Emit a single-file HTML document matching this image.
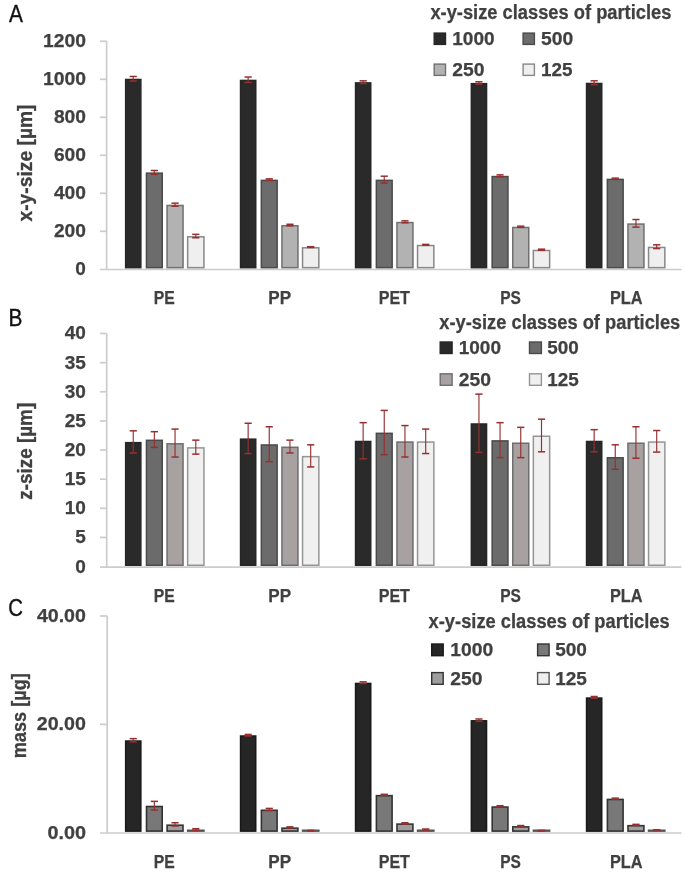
<!DOCTYPE html>
<html><head><meta charset="utf-8"><style>
html,body{margin:0;padding:0;background:#fff;}
body{width:685px;height:873px;overflow:hidden;}
svg{display:block;font-family:"Liberation Sans", sans-serif;filter:blur(0.7px);}
</style></head><body>
<svg width="685" height="873" viewBox="0 0 685 873">
<rect width="685" height="873" fill="#fff"/>
<line x1="106.60" y1="41.30" x2="106.60" y2="269.50" stroke="#cccccc" stroke-width="1.7"/>
<line x1="100.00" y1="269.50" x2="681.50" y2="269.50" stroke="#cccccc" stroke-width="1.7"/>
<text x="85.90" y="275.20" font-size="19" font-weight="bold" text-anchor="end" fill="#404040" stroke="#404040" stroke-width="0.25" >0</text>
<line x1="100.00" y1="231.30" x2="106.60" y2="231.30" stroke="#cccccc" stroke-width="1.7"/>
<text x="85.90" y="237.20" font-size="19" font-weight="bold" text-anchor="end" fill="#404040" stroke="#404040" stroke-width="0.25" textLength="32.0" lengthAdjust="spacingAndGlyphs" >200</text>
<line x1="100.00" y1="193.30" x2="106.60" y2="193.30" stroke="#cccccc" stroke-width="1.7"/>
<text x="85.90" y="199.20" font-size="19" font-weight="bold" text-anchor="end" fill="#404040" stroke="#404040" stroke-width="0.25" textLength="32.0" lengthAdjust="spacingAndGlyphs" >400</text>
<line x1="100.00" y1="155.30" x2="106.60" y2="155.30" stroke="#cccccc" stroke-width="1.7"/>
<text x="85.90" y="161.20" font-size="19" font-weight="bold" text-anchor="end" fill="#404040" stroke="#404040" stroke-width="0.25" textLength="32.0" lengthAdjust="spacingAndGlyphs" >600</text>
<line x1="100.00" y1="117.30" x2="106.60" y2="117.30" stroke="#cccccc" stroke-width="1.7"/>
<text x="85.90" y="123.20" font-size="19" font-weight="bold" text-anchor="end" fill="#404040" stroke="#404040" stroke-width="0.25" textLength="32.0" lengthAdjust="spacingAndGlyphs" >800</text>
<line x1="100.00" y1="79.30" x2="106.60" y2="79.30" stroke="#cccccc" stroke-width="1.7"/>
<text x="85.90" y="85.20" font-size="19" font-weight="bold" text-anchor="end" fill="#404040" stroke="#404040" stroke-width="0.25" textLength="43.0" lengthAdjust="spacingAndGlyphs" >1000</text>
<line x1="100.00" y1="41.30" x2="106.60" y2="41.30" stroke="#cccccc" stroke-width="1.7"/>
<text x="85.90" y="47.20" font-size="19" font-weight="bold" text-anchor="end" fill="#404040" stroke="#404040" stroke-width="0.25" textLength="43.0" lengthAdjust="spacingAndGlyphs" >1200</text>
<rect x="125.65" y="79.48" width="15.20" height="188.17" fill="#2a2a2a" stroke="#262626" stroke-width="1.5"/>
<rect x="146.45" y="173.15" width="15.80" height="94.50" fill="#6c6c6c" stroke="#4a4a4a" stroke-width="1.5"/>
<rect x="167.05" y="205.45" width="16.00" height="62.20" fill="#b2b2b2" stroke="#707070" stroke-width="1.5"/>
<rect x="187.65" y="236.80" width="16.30" height="30.85" fill="#efefef" stroke="#888888" stroke-width="1.5"/>
<line x1="133.25" y1="76.45" x2="133.25" y2="81.01" stroke="#963030" stroke-width="1.15"/>
<line x1="129.65" y1="76.45" x2="136.85" y2="76.45" stroke="#963030" stroke-width="1.5"/>
<line x1="129.65" y1="81.01" x2="136.85" y2="81.01" stroke="#963030" stroke-width="1.5"/>
<line x1="154.35" y1="170.50" x2="154.35" y2="174.30" stroke="#963030" stroke-width="1.15"/>
<line x1="150.75" y1="170.50" x2="157.95" y2="170.50" stroke="#963030" stroke-width="1.5"/>
<line x1="150.75" y1="174.30" x2="157.95" y2="174.30" stroke="#963030" stroke-width="1.5"/>
<line x1="175.05" y1="203.18" x2="175.05" y2="206.22" stroke="#963030" stroke-width="1.15"/>
<line x1="171.45" y1="203.18" x2="178.65" y2="203.18" stroke="#963030" stroke-width="1.5"/>
<line x1="171.45" y1="206.22" x2="178.65" y2="206.22" stroke="#963030" stroke-width="1.5"/>
<line x1="195.80" y1="234.34" x2="195.80" y2="237.76" stroke="#963030" stroke-width="1.15"/>
<line x1="192.20" y1="234.34" x2="199.40" y2="234.34" stroke="#963030" stroke-width="1.5"/>
<line x1="192.20" y1="237.76" x2="199.40" y2="237.76" stroke="#963030" stroke-width="1.5"/>
<rect x="240.55" y="80.43" width="15.20" height="187.22" fill="#2a2a2a" stroke="#262626" stroke-width="1.5"/>
<rect x="261.35" y="180.37" width="15.80" height="87.28" fill="#6c6c6c" stroke="#4a4a4a" stroke-width="1.5"/>
<rect x="281.95" y="225.78" width="16.00" height="41.87" fill="#b2b2b2" stroke="#707070" stroke-width="1.5"/>
<rect x="302.55" y="247.82" width="16.30" height="19.83" fill="#efefef" stroke="#888888" stroke-width="1.5"/>
<line x1="248.15" y1="77.02" x2="248.15" y2="82.34" stroke="#963030" stroke-width="1.15"/>
<line x1="244.55" y1="77.02" x2="251.75" y2="77.02" stroke="#963030" stroke-width="1.5"/>
<line x1="244.55" y1="82.34" x2="251.75" y2="82.34" stroke="#963030" stroke-width="1.5"/>
<line x1="269.25" y1="178.86" x2="269.25" y2="180.38" stroke="#963030" stroke-width="1.15"/>
<line x1="265.65" y1="178.86" x2="272.85" y2="178.86" stroke="#963030" stroke-width="1.5"/>
<line x1="265.65" y1="180.38" x2="272.85" y2="180.38" stroke="#963030" stroke-width="1.5"/>
<line x1="289.95" y1="224.27" x2="289.95" y2="225.79" stroke="#963030" stroke-width="1.15"/>
<line x1="286.35" y1="224.27" x2="293.55" y2="224.27" stroke="#963030" stroke-width="1.5"/>
<line x1="286.35" y1="225.79" x2="293.55" y2="225.79" stroke="#963030" stroke-width="1.5"/>
<line x1="310.70" y1="246.69" x2="310.70" y2="247.45" stroke="#963030" stroke-width="1.15"/>
<line x1="307.10" y1="246.69" x2="314.30" y2="246.69" stroke="#963030" stroke-width="1.5"/>
<line x1="307.10" y1="247.45" x2="314.30" y2="247.45" stroke="#963030" stroke-width="1.5"/>
<rect x="355.55" y="82.90" width="15.20" height="184.75" fill="#2a2a2a" stroke="#262626" stroke-width="1.5"/>
<rect x="376.35" y="180.37" width="15.80" height="87.28" fill="#6c6c6c" stroke="#4a4a4a" stroke-width="1.5"/>
<rect x="396.95" y="222.55" width="16.00" height="45.10" fill="#b2b2b2" stroke="#707070" stroke-width="1.5"/>
<rect x="417.55" y="245.54" width="16.30" height="22.11" fill="#efefef" stroke="#888888" stroke-width="1.5"/>
<line x1="363.15" y1="80.82" x2="363.15" y2="83.48" stroke="#963030" stroke-width="1.15"/>
<line x1="359.55" y1="80.82" x2="366.75" y2="80.82" stroke="#963030" stroke-width="1.5"/>
<line x1="359.55" y1="83.48" x2="366.75" y2="83.48" stroke="#963030" stroke-width="1.5"/>
<line x1="384.25" y1="176.20" x2="384.25" y2="183.04" stroke="#963030" stroke-width="1.15"/>
<line x1="380.65" y1="176.20" x2="387.85" y2="176.20" stroke="#963030" stroke-width="1.5"/>
<line x1="380.65" y1="183.04" x2="387.85" y2="183.04" stroke="#963030" stroke-width="1.5"/>
<line x1="404.95" y1="220.85" x2="404.95" y2="222.75" stroke="#963030" stroke-width="1.15"/>
<line x1="401.35" y1="220.85" x2="408.55" y2="220.85" stroke="#963030" stroke-width="1.5"/>
<line x1="401.35" y1="222.75" x2="408.55" y2="222.75" stroke="#963030" stroke-width="1.5"/>
<line x1="425.70" y1="244.41" x2="425.70" y2="245.17" stroke="#963030" stroke-width="1.15"/>
<line x1="422.10" y1="244.41" x2="429.30" y2="244.41" stroke="#963030" stroke-width="1.5"/>
<line x1="422.10" y1="245.17" x2="429.30" y2="245.17" stroke="#963030" stroke-width="1.5"/>
<rect x="471.35" y="83.66" width="15.20" height="183.99" fill="#2a2a2a" stroke="#262626" stroke-width="1.5"/>
<rect x="492.15" y="176.57" width="15.80" height="91.08" fill="#6c6c6c" stroke="#4a4a4a" stroke-width="1.5"/>
<rect x="512.75" y="227.49" width="16.00" height="40.16" fill="#b2b2b2" stroke="#707070" stroke-width="1.5"/>
<rect x="533.35" y="250.48" width="16.30" height="17.17" fill="#efefef" stroke="#888888" stroke-width="1.5"/>
<line x1="478.95" y1="81.77" x2="478.95" y2="84.05" stroke="#963030" stroke-width="1.15"/>
<line x1="475.35" y1="81.77" x2="482.55" y2="81.77" stroke="#963030" stroke-width="1.5"/>
<line x1="475.35" y1="84.05" x2="482.55" y2="84.05" stroke="#963030" stroke-width="1.5"/>
<line x1="500.05" y1="174.87" x2="500.05" y2="176.77" stroke="#963030" stroke-width="1.15"/>
<line x1="496.45" y1="174.87" x2="503.65" y2="174.87" stroke="#963030" stroke-width="1.5"/>
<line x1="496.45" y1="176.77" x2="503.65" y2="176.77" stroke="#963030" stroke-width="1.5"/>
<line x1="520.75" y1="226.17" x2="520.75" y2="227.31" stroke="#963030" stroke-width="1.15"/>
<line x1="517.15" y1="226.17" x2="524.35" y2="226.17" stroke="#963030" stroke-width="1.5"/>
<line x1="517.15" y1="227.31" x2="524.35" y2="227.31" stroke="#963030" stroke-width="1.5"/>
<line x1="541.50" y1="249.16" x2="541.50" y2="250.30" stroke="#963030" stroke-width="1.15"/>
<line x1="537.90" y1="249.16" x2="545.10" y2="249.16" stroke="#963030" stroke-width="1.5"/>
<line x1="537.90" y1="250.30" x2="545.10" y2="250.30" stroke="#963030" stroke-width="1.5"/>
<rect x="586.55" y="83.47" width="15.20" height="184.18" fill="#2a2a2a" stroke="#262626" stroke-width="1.5"/>
<rect x="607.35" y="179.42" width="15.80" height="88.23" fill="#6c6c6c" stroke="#4a4a4a" stroke-width="1.5"/>
<rect x="627.95" y="224.07" width="16.00" height="43.58" fill="#b2b2b2" stroke="#707070" stroke-width="1.5"/>
<rect x="648.55" y="247.44" width="16.30" height="20.21" fill="#efefef" stroke="#888888" stroke-width="1.5"/>
<line x1="594.15" y1="80.82" x2="594.15" y2="84.62" stroke="#963030" stroke-width="1.15"/>
<line x1="590.55" y1="80.82" x2="597.75" y2="80.82" stroke="#963030" stroke-width="1.5"/>
<line x1="590.55" y1="84.62" x2="597.75" y2="84.62" stroke="#963030" stroke-width="1.5"/>
<line x1="615.25" y1="178.10" x2="615.25" y2="179.24" stroke="#963030" stroke-width="1.15"/>
<line x1="611.65" y1="178.10" x2="618.85" y2="178.10" stroke="#963030" stroke-width="1.5"/>
<line x1="611.65" y1="179.24" x2="618.85" y2="179.24" stroke="#963030" stroke-width="1.5"/>
<line x1="635.95" y1="219.52" x2="635.95" y2="227.12" stroke="#963030" stroke-width="1.15"/>
<line x1="632.35" y1="219.52" x2="639.55" y2="219.52" stroke="#963030" stroke-width="1.5"/>
<line x1="632.35" y1="227.12" x2="639.55" y2="227.12" stroke="#963030" stroke-width="1.5"/>
<line x1="656.70" y1="244.79" x2="656.70" y2="248.59" stroke="#963030" stroke-width="1.15"/>
<line x1="653.10" y1="244.79" x2="660.30" y2="244.79" stroke="#963030" stroke-width="1.5"/>
<line x1="653.10" y1="248.59" x2="660.30" y2="248.59" stroke="#963030" stroke-width="1.5"/>
<text x="164.30" y="304.00" font-size="19" font-weight="bold" text-anchor="middle" fill="#404040" stroke="#404040" stroke-width="0.25" textLength="21" lengthAdjust="spacingAndGlyphs" >PE</text>
<text x="279.70" y="304.00" font-size="19" font-weight="bold" text-anchor="middle" fill="#404040" stroke="#404040" stroke-width="0.25" textLength="22.8" lengthAdjust="spacingAndGlyphs" >PP</text>
<text x="394.30" y="304.00" font-size="19" font-weight="bold" text-anchor="middle" fill="#404040" stroke="#404040" stroke-width="0.25" textLength="31.2" lengthAdjust="spacingAndGlyphs" >PET</text>
<text x="510.50" y="304.00" font-size="19" font-weight="bold" text-anchor="middle" fill="#404040" stroke="#404040" stroke-width="0.25" textLength="20.7" lengthAdjust="spacingAndGlyphs" >PS</text>
<text x="626.30" y="304.00" font-size="19" font-weight="bold" text-anchor="middle" fill="#404040" stroke="#404040" stroke-width="0.25" textLength="32.7" lengthAdjust="spacingAndGlyphs" >PLA</text>
<text x="8.95" y="21.60" font-size="23.3" font-weight="normal" text-anchor="start" fill="#111" stroke="#111" stroke-width="0.35" textLength="13.9" lengthAdjust="spacingAndGlyphs" >A</text>
<text transform="translate(31.60,163.00) rotate(-90)" x="0" y="0" font-size="19.5" font-weight="bold" text-anchor="middle" fill="#404040" stroke="#404040" stroke-width="0.3" textLength="117.0" lengthAdjust="spacingAndGlyphs">x-y-size [µm]</text>
<text x="430.40" y="18.60" font-size="19.6" font-weight="bold" text-anchor="start" fill="#404040" stroke="#404040" stroke-width="0.25" textLength="241" lengthAdjust="spacingAndGlyphs" >x-y-size classes of particles</text>
<rect x="434.20" y="33.10" width="11.30" height="11.30" fill="#2a2a2a" stroke="#262626" stroke-width="1.4"/>
<text x="452.30" y="45.00" font-size="19" font-weight="bold" text-anchor="start" fill="#404040" stroke="#404040" stroke-width="0.25" textLength="42.3" lengthAdjust="spacingAndGlyphs" >1000</text>
<rect x="523.10" y="33.10" width="11.30" height="11.30" fill="#6c6c6c" stroke="#4a4a4a" stroke-width="1.4"/>
<text x="541.00" y="45.00" font-size="19" font-weight="bold" text-anchor="start" fill="#404040" stroke="#404040" stroke-width="0.25" textLength="32.2" lengthAdjust="spacingAndGlyphs" >500</text>
<rect x="434.20" y="64.10" width="11.30" height="11.30" fill="#b2b2b2" stroke="#707070" stroke-width="1.4"/>
<text x="452.30" y="76.00" font-size="19" font-weight="bold" text-anchor="start" fill="#404040" stroke="#404040" stroke-width="0.25" textLength="32.2" lengthAdjust="spacingAndGlyphs" >250</text>
<rect x="523.10" y="64.10" width="11.30" height="11.30" fill="#efefef" stroke="#888888" stroke-width="1.4"/>
<text x="541.00" y="76.00" font-size="19" font-weight="bold" text-anchor="start" fill="#404040" stroke="#404040" stroke-width="0.25" textLength="31.5" lengthAdjust="spacingAndGlyphs" >125</text>
<line x1="106.70" y1="333.50" x2="106.70" y2="567.20" stroke="#cccccc" stroke-width="1.7"/>
<line x1="100.00" y1="567.20" x2="681.50" y2="567.20" stroke="#cccccc" stroke-width="1.7"/>
<text x="85.90" y="572.50" font-size="19" font-weight="bold" text-anchor="end" fill="#404040" stroke="#404040" stroke-width="0.25" >0</text>
<line x1="100.00" y1="537.46" x2="106.70" y2="537.46" stroke="#cccccc" stroke-width="1.7"/>
<text x="85.90" y="543.36" font-size="19" font-weight="bold" text-anchor="end" fill="#404040" stroke="#404040" stroke-width="0.25" >5</text>
<line x1="100.00" y1="508.33" x2="106.70" y2="508.33" stroke="#cccccc" stroke-width="1.7"/>
<text x="85.90" y="514.23" font-size="19" font-weight="bold" text-anchor="end" fill="#404040" stroke="#404040" stroke-width="0.25" >10</text>
<line x1="100.00" y1="479.19" x2="106.70" y2="479.19" stroke="#cccccc" stroke-width="1.7"/>
<text x="85.90" y="485.09" font-size="19" font-weight="bold" text-anchor="end" fill="#404040" stroke="#404040" stroke-width="0.25" >15</text>
<line x1="100.00" y1="450.05" x2="106.70" y2="450.05" stroke="#cccccc" stroke-width="1.7"/>
<text x="85.90" y="455.95" font-size="19" font-weight="bold" text-anchor="end" fill="#404040" stroke="#404040" stroke-width="0.25" >20</text>
<line x1="100.00" y1="420.91" x2="106.70" y2="420.91" stroke="#cccccc" stroke-width="1.7"/>
<text x="85.90" y="426.81" font-size="19" font-weight="bold" text-anchor="end" fill="#404040" stroke="#404040" stroke-width="0.25" >25</text>
<line x1="100.00" y1="391.78" x2="106.70" y2="391.78" stroke="#cccccc" stroke-width="1.7"/>
<text x="85.90" y="397.68" font-size="19" font-weight="bold" text-anchor="end" fill="#404040" stroke="#404040" stroke-width="0.25" >30</text>
<line x1="100.00" y1="362.64" x2="106.70" y2="362.64" stroke="#cccccc" stroke-width="1.7"/>
<text x="85.90" y="368.54" font-size="19" font-weight="bold" text-anchor="end" fill="#404040" stroke="#404040" stroke-width="0.25" >35</text>
<line x1="100.00" y1="333.50" x2="106.70" y2="333.50" stroke="#cccccc" stroke-width="1.7"/>
<text x="85.90" y="339.40" font-size="19" font-weight="bold" text-anchor="end" fill="#404040" stroke="#404040" stroke-width="0.25" >40</text>
<rect x="125.65" y="442.64" width="15.20" height="122.61" fill="#2a2a2a" stroke="#262626" stroke-width="1.5"/>
<rect x="146.45" y="440.31" width="15.80" height="124.94" fill="#6b6b6b" stroke="#4a4a4a" stroke-width="1.5"/>
<rect x="167.05" y="443.81" width="16.00" height="121.44" fill="#a7a2a1" stroke="#6e6e6e" stroke-width="1.5"/>
<rect x="187.65" y="447.89" width="16.30" height="117.36" fill="#f0f0f0" stroke="#959595" stroke-width="1.5"/>
<line x1="133.25" y1="430.82" x2="133.25" y2="452.96" stroke="#963030" stroke-width="1.15"/>
<line x1="129.65" y1="430.82" x2="136.85" y2="430.82" stroke="#963030" stroke-width="1.5"/>
<line x1="129.65" y1="452.96" x2="136.85" y2="452.96" stroke="#963030" stroke-width="1.5"/>
<line x1="154.35" y1="431.69" x2="154.35" y2="447.43" stroke="#963030" stroke-width="1.15"/>
<line x1="150.75" y1="431.69" x2="157.95" y2="431.69" stroke="#963030" stroke-width="1.5"/>
<line x1="150.75" y1="447.43" x2="157.95" y2="447.43" stroke="#963030" stroke-width="1.5"/>
<line x1="175.05" y1="429.07" x2="175.05" y2="457.04" stroke="#963030" stroke-width="1.15"/>
<line x1="171.45" y1="429.07" x2="178.65" y2="429.07" stroke="#963030" stroke-width="1.5"/>
<line x1="171.45" y1="457.04" x2="178.65" y2="457.04" stroke="#963030" stroke-width="1.5"/>
<line x1="195.80" y1="440.14" x2="195.80" y2="454.13" stroke="#963030" stroke-width="1.15"/>
<line x1="192.20" y1="440.14" x2="199.40" y2="440.14" stroke="#963030" stroke-width="1.5"/>
<line x1="192.20" y1="454.13" x2="199.40" y2="454.13" stroke="#963030" stroke-width="1.5"/>
<rect x="240.55" y="439.15" width="15.20" height="126.10" fill="#2a2a2a" stroke="#262626" stroke-width="1.5"/>
<rect x="261.35" y="444.97" width="15.80" height="120.28" fill="#6b6b6b" stroke="#4a4a4a" stroke-width="1.5"/>
<rect x="281.95" y="447.30" width="16.00" height="117.95" fill="#a7a2a1" stroke="#6e6e6e" stroke-width="1.5"/>
<rect x="302.55" y="456.63" width="16.30" height="108.62" fill="#f0f0f0" stroke="#959595" stroke-width="1.5"/>
<line x1="248.15" y1="423.24" x2="248.15" y2="453.55" stroke="#963030" stroke-width="1.15"/>
<line x1="244.55" y1="423.24" x2="251.75" y2="423.24" stroke="#963030" stroke-width="1.5"/>
<line x1="244.55" y1="453.55" x2="251.75" y2="453.55" stroke="#963030" stroke-width="1.5"/>
<line x1="269.25" y1="426.74" x2="269.25" y2="461.71" stroke="#963030" stroke-width="1.15"/>
<line x1="265.65" y1="426.74" x2="272.85" y2="426.74" stroke="#963030" stroke-width="1.5"/>
<line x1="265.65" y1="461.71" x2="272.85" y2="461.71" stroke="#963030" stroke-width="1.5"/>
<line x1="289.95" y1="440.14" x2="289.95" y2="452.96" stroke="#963030" stroke-width="1.15"/>
<line x1="286.35" y1="440.14" x2="293.55" y2="440.14" stroke="#963030" stroke-width="1.5"/>
<line x1="286.35" y1="452.96" x2="293.55" y2="452.96" stroke="#963030" stroke-width="1.5"/>
<line x1="310.70" y1="444.81" x2="310.70" y2="466.95" stroke="#963030" stroke-width="1.15"/>
<line x1="307.10" y1="444.81" x2="314.30" y2="444.81" stroke="#963030" stroke-width="1.5"/>
<line x1="307.10" y1="466.95" x2="314.30" y2="466.95" stroke="#963030" stroke-width="1.5"/>
<rect x="355.55" y="441.48" width="15.20" height="123.77" fill="#2a2a2a" stroke="#262626" stroke-width="1.5"/>
<rect x="376.35" y="433.32" width="15.80" height="131.93" fill="#6b6b6b" stroke="#4a4a4a" stroke-width="1.5"/>
<rect x="396.95" y="442.06" width="16.00" height="123.19" fill="#a7a2a1" stroke="#6e6e6e" stroke-width="1.5"/>
<rect x="417.55" y="442.06" width="16.30" height="123.19" fill="#f0f0f0" stroke="#959595" stroke-width="1.5"/>
<line x1="363.15" y1="422.66" x2="363.15" y2="458.79" stroke="#963030" stroke-width="1.15"/>
<line x1="359.55" y1="422.66" x2="366.75" y2="422.66" stroke="#963030" stroke-width="1.5"/>
<line x1="359.55" y1="458.79" x2="366.75" y2="458.79" stroke="#963030" stroke-width="1.5"/>
<line x1="384.25" y1="410.42" x2="384.25" y2="454.71" stroke="#963030" stroke-width="1.15"/>
<line x1="380.65" y1="410.42" x2="387.85" y2="410.42" stroke="#963030" stroke-width="1.5"/>
<line x1="380.65" y1="454.71" x2="387.85" y2="454.71" stroke="#963030" stroke-width="1.5"/>
<line x1="404.95" y1="425.57" x2="404.95" y2="457.04" stroke="#963030" stroke-width="1.15"/>
<line x1="401.35" y1="425.57" x2="408.55" y2="425.57" stroke="#963030" stroke-width="1.5"/>
<line x1="401.35" y1="457.04" x2="408.55" y2="457.04" stroke="#963030" stroke-width="1.5"/>
<line x1="425.70" y1="429.07" x2="425.70" y2="453.55" stroke="#963030" stroke-width="1.15"/>
<line x1="422.10" y1="429.07" x2="429.30" y2="429.07" stroke="#963030" stroke-width="1.5"/>
<line x1="422.10" y1="453.55" x2="429.30" y2="453.55" stroke="#963030" stroke-width="1.5"/>
<rect x="471.35" y="423.99" width="15.20" height="141.26" fill="#2a2a2a" stroke="#262626" stroke-width="1.5"/>
<rect x="492.15" y="440.89" width="15.80" height="124.36" fill="#6b6b6b" stroke="#4a4a4a" stroke-width="1.5"/>
<rect x="512.75" y="443.22" width="16.00" height="122.03" fill="#a7a2a1" stroke="#6e6e6e" stroke-width="1.5"/>
<rect x="533.35" y="436.23" width="16.30" height="129.02" fill="#f0f0f0" stroke="#959595" stroke-width="1.5"/>
<line x1="478.95" y1="394.11" x2="478.95" y2="452.38" stroke="#963030" stroke-width="1.15"/>
<line x1="475.35" y1="394.11" x2="482.55" y2="394.11" stroke="#963030" stroke-width="1.5"/>
<line x1="475.35" y1="452.38" x2="482.55" y2="452.38" stroke="#963030" stroke-width="1.5"/>
<line x1="500.05" y1="422.66" x2="500.05" y2="457.63" stroke="#963030" stroke-width="1.15"/>
<line x1="496.45" y1="422.66" x2="503.65" y2="422.66" stroke="#963030" stroke-width="1.5"/>
<line x1="496.45" y1="457.63" x2="503.65" y2="457.63" stroke="#963030" stroke-width="1.5"/>
<line x1="520.75" y1="427.32" x2="520.75" y2="457.63" stroke="#963030" stroke-width="1.15"/>
<line x1="517.15" y1="427.32" x2="524.35" y2="427.32" stroke="#963030" stroke-width="1.5"/>
<line x1="517.15" y1="457.63" x2="524.35" y2="457.63" stroke="#963030" stroke-width="1.5"/>
<line x1="541.50" y1="419.16" x2="541.50" y2="451.80" stroke="#963030" stroke-width="1.15"/>
<line x1="537.90" y1="419.16" x2="545.10" y2="419.16" stroke="#963030" stroke-width="1.5"/>
<line x1="537.90" y1="451.80" x2="545.10" y2="451.80" stroke="#963030" stroke-width="1.5"/>
<rect x="586.55" y="441.48" width="15.20" height="123.77" fill="#2a2a2a" stroke="#262626" stroke-width="1.5"/>
<rect x="607.35" y="457.79" width="15.80" height="107.46" fill="#6b6b6b" stroke="#4a4a4a" stroke-width="1.5"/>
<rect x="627.95" y="443.22" width="16.00" height="122.03" fill="#a7a2a1" stroke="#6e6e6e" stroke-width="1.5"/>
<rect x="648.55" y="442.06" width="16.30" height="123.19" fill="#f0f0f0" stroke="#959595" stroke-width="1.5"/>
<line x1="594.15" y1="429.65" x2="594.15" y2="451.80" stroke="#963030" stroke-width="1.15"/>
<line x1="590.55" y1="429.65" x2="597.75" y2="429.65" stroke="#963030" stroke-width="1.5"/>
<line x1="590.55" y1="451.80" x2="597.75" y2="451.80" stroke="#963030" stroke-width="1.5"/>
<line x1="615.25" y1="444.81" x2="615.25" y2="469.28" stroke="#963030" stroke-width="1.15"/>
<line x1="611.65" y1="444.81" x2="618.85" y2="444.81" stroke="#963030" stroke-width="1.5"/>
<line x1="611.65" y1="469.28" x2="618.85" y2="469.28" stroke="#963030" stroke-width="1.5"/>
<line x1="635.95" y1="426.74" x2="635.95" y2="458.21" stroke="#963030" stroke-width="1.15"/>
<line x1="632.35" y1="426.74" x2="639.55" y2="426.74" stroke="#963030" stroke-width="1.5"/>
<line x1="632.35" y1="458.21" x2="639.55" y2="458.21" stroke="#963030" stroke-width="1.5"/>
<line x1="656.70" y1="430.53" x2="656.70" y2="452.09" stroke="#963030" stroke-width="1.15"/>
<line x1="653.10" y1="430.53" x2="660.30" y2="430.53" stroke="#963030" stroke-width="1.5"/>
<line x1="653.10" y1="452.09" x2="660.30" y2="452.09" stroke="#963030" stroke-width="1.5"/>
<text x="164.30" y="602.10" font-size="19" font-weight="bold" text-anchor="middle" fill="#404040" stroke="#404040" stroke-width="0.25" textLength="21" lengthAdjust="spacingAndGlyphs" >PE</text>
<text x="279.70" y="602.10" font-size="19" font-weight="bold" text-anchor="middle" fill="#404040" stroke="#404040" stroke-width="0.25" textLength="22.8" lengthAdjust="spacingAndGlyphs" >PP</text>
<text x="394.30" y="602.10" font-size="19" font-weight="bold" text-anchor="middle" fill="#404040" stroke="#404040" stroke-width="0.25" textLength="31.2" lengthAdjust="spacingAndGlyphs" >PET</text>
<text x="510.50" y="602.10" font-size="19" font-weight="bold" text-anchor="middle" fill="#404040" stroke="#404040" stroke-width="0.25" textLength="20.7" lengthAdjust="spacingAndGlyphs" >PS</text>
<text x="626.30" y="602.10" font-size="19" font-weight="bold" text-anchor="middle" fill="#404040" stroke="#404040" stroke-width="0.25" textLength="32.7" lengthAdjust="spacingAndGlyphs" >PLA</text>
<text x="8.50" y="326.00" font-size="23.3" font-weight="normal" text-anchor="start" fill="#111" stroke="#111" stroke-width="0.35" textLength="13.9" lengthAdjust="spacingAndGlyphs" >B</text>
<text transform="translate(31.60,451.30) rotate(-90)" x="0" y="0" font-size="19.5" font-weight="bold" text-anchor="middle" fill="#404040" stroke="#404040" stroke-width="0.3" textLength="97.0" lengthAdjust="spacingAndGlyphs">z-size [µm]</text>
<text x="439.30" y="329.00" font-size="19.6" font-weight="bold" text-anchor="start" fill="#404040" stroke="#404040" stroke-width="0.25" textLength="241" lengthAdjust="spacingAndGlyphs" >x-y-size classes of particles</text>
<rect x="440.20" y="342.00" width="11.90" height="11.50" fill="#2a2a2a" stroke="#262626" stroke-width="1.4"/>
<text x="458.70" y="354.10" font-size="19" font-weight="bold" text-anchor="start" fill="#404040" stroke="#404040" stroke-width="0.25" textLength="42.3" lengthAdjust="spacingAndGlyphs" >1000</text>
<rect x="529.50" y="342.00" width="11.90" height="11.50" fill="#6b6b6b" stroke="#4a4a4a" stroke-width="1.4"/>
<text x="547.20" y="354.10" font-size="19" font-weight="bold" text-anchor="start" fill="#404040" stroke="#404040" stroke-width="0.25" textLength="31.5" lengthAdjust="spacingAndGlyphs" >500</text>
<rect x="440.20" y="373.80" width="11.90" height="11.50" fill="#a7a2a1" stroke="#6e6e6e" stroke-width="1.4"/>
<text x="458.70" y="385.90" font-size="19" font-weight="bold" text-anchor="start" fill="#404040" stroke="#404040" stroke-width="0.25" textLength="32.2" lengthAdjust="spacingAndGlyphs" >250</text>
<rect x="529.50" y="373.80" width="11.90" height="11.50" fill="#f0f0f0" stroke="#959595" stroke-width="1.4"/>
<text x="547.20" y="385.90" font-size="19" font-weight="bold" text-anchor="start" fill="#404040" stroke="#404040" stroke-width="0.25" textLength="31.5" lengthAdjust="spacingAndGlyphs" >125</text>
<line x1="107.20" y1="616.00" x2="107.20" y2="833.00" stroke="#cccccc" stroke-width="1.7"/>
<line x1="100.00" y1="833.00" x2="681.50" y2="833.00" stroke="#cccccc" stroke-width="1.7"/>
<text x="85.90" y="838.70" font-size="19" font-weight="bold" text-anchor="end" fill="#404040" stroke="#404040" stroke-width="0.25" textLength="38.5" lengthAdjust="spacingAndGlyphs" >0.00</text>
<line x1="100.00" y1="724.40" x2="107.20" y2="724.40" stroke="#cccccc" stroke-width="1.7"/>
<text x="85.90" y="730.30" font-size="19" font-weight="bold" text-anchor="end" fill="#404040" stroke="#404040" stroke-width="0.25" textLength="49.1" lengthAdjust="spacingAndGlyphs" >20.00</text>
<line x1="100.00" y1="616.00" x2="107.20" y2="616.00" stroke="#cccccc" stroke-width="1.7"/>
<text x="85.90" y="621.90" font-size="19" font-weight="bold" text-anchor="end" fill="#404040" stroke="#404040" stroke-width="0.25" textLength="49.0" lengthAdjust="spacingAndGlyphs" >40.00</text>
<rect x="125.70" y="741.08" width="15.10" height="90.02" fill="#262626" stroke="#1a1a1a" stroke-width="1.6"/>
<rect x="146.50" y="806.50" width="15.70" height="24.60" fill="#787878" stroke="#333333" stroke-width="1.6"/>
<rect x="167.10" y="825.20" width="15.90" height="5.90" fill="#9e9e9e" stroke="#333333" stroke-width="1.6"/>
<rect x="187.70" y="830.30" width="16.20" height="0.80" fill="#eeeeee" stroke="#555555" stroke-width="1.6"/>
<line x1="133.25" y1="738.65" x2="133.25" y2="741.91" stroke="#963030" stroke-width="1.15"/>
<line x1="129.65" y1="738.65" x2="136.85" y2="738.65" stroke="#963030" stroke-width="1.5"/>
<line x1="129.65" y1="741.91" x2="136.85" y2="741.91" stroke="#963030" stroke-width="1.5"/>
<line x1="154.35" y1="801.36" x2="154.35" y2="810.04" stroke="#963030" stroke-width="1.15"/>
<line x1="150.75" y1="801.36" x2="157.95" y2="801.36" stroke="#963030" stroke-width="1.5"/>
<line x1="150.75" y1="810.04" x2="157.95" y2="810.04" stroke="#963030" stroke-width="1.5"/>
<line x1="175.05" y1="822.77" x2="175.05" y2="826.02" stroke="#963030" stroke-width="1.15"/>
<line x1="171.45" y1="822.77" x2="178.65" y2="822.77" stroke="#963030" stroke-width="1.5"/>
<line x1="171.45" y1="826.02" x2="178.65" y2="826.02" stroke="#963030" stroke-width="1.5"/>
<line x1="195.80" y1="828.74" x2="195.80" y2="830.36" stroke="#963030" stroke-width="1.15"/>
<line x1="192.20" y1="828.74" x2="199.40" y2="828.74" stroke="#963030" stroke-width="1.5"/>
<line x1="192.20" y1="830.36" x2="199.40" y2="830.36" stroke="#963030" stroke-width="1.5"/>
<rect x="240.60" y="736.04" width="15.10" height="95.06" fill="#262626" stroke="#1a1a1a" stroke-width="1.6"/>
<rect x="261.40" y="810.29" width="15.70" height="20.81" fill="#787878" stroke="#333333" stroke-width="1.6"/>
<rect x="282.00" y="828.18" width="15.90" height="2.92" fill="#9e9e9e" stroke="#333333" stroke-width="1.6"/>
<rect x="302.60" y="830.30" width="16.20" height="0.80" fill="#eeeeee" stroke="#555555" stroke-width="1.6"/>
<line x1="248.15" y1="734.43" x2="248.15" y2="736.05" stroke="#963030" stroke-width="1.15"/>
<line x1="244.55" y1="734.43" x2="251.75" y2="734.43" stroke="#963030" stroke-width="1.5"/>
<line x1="244.55" y1="736.05" x2="251.75" y2="736.05" stroke="#963030" stroke-width="1.5"/>
<line x1="269.25" y1="808.41" x2="269.25" y2="810.58" stroke="#963030" stroke-width="1.15"/>
<line x1="265.65" y1="808.41" x2="272.85" y2="808.41" stroke="#963030" stroke-width="1.5"/>
<line x1="265.65" y1="810.58" x2="272.85" y2="810.58" stroke="#963030" stroke-width="1.5"/>
<line x1="289.95" y1="826.84" x2="289.95" y2="827.92" stroke="#963030" stroke-width="1.15"/>
<line x1="286.35" y1="826.84" x2="293.55" y2="826.84" stroke="#963030" stroke-width="1.5"/>
<line x1="286.35" y1="827.92" x2="293.55" y2="827.92" stroke="#963030" stroke-width="1.5"/>
<line x1="310.70" y1="830.36" x2="310.70" y2="830.90" stroke="#963030" stroke-width="1.15"/>
<line x1="307.10" y1="830.36" x2="314.30" y2="830.36" stroke="#963030" stroke-width="1.5"/>
<line x1="307.10" y1="830.90" x2="314.30" y2="830.90" stroke="#963030" stroke-width="1.5"/>
<rect x="355.60" y="683.47" width="15.10" height="147.63" fill="#262626" stroke="#1a1a1a" stroke-width="1.6"/>
<rect x="376.40" y="795.66" width="15.70" height="35.44" fill="#787878" stroke="#333333" stroke-width="1.6"/>
<rect x="397.00" y="824.11" width="15.90" height="6.99" fill="#9e9e9e" stroke="#333333" stroke-width="1.6"/>
<rect x="417.60" y="830.30" width="16.20" height="0.80" fill="#eeeeee" stroke="#555555" stroke-width="1.6"/>
<line x1="363.15" y1="681.85" x2="363.15" y2="683.48" stroke="#963030" stroke-width="1.15"/>
<line x1="359.55" y1="681.85" x2="366.75" y2="681.85" stroke="#963030" stroke-width="1.5"/>
<line x1="359.55" y1="683.48" x2="366.75" y2="683.48" stroke="#963030" stroke-width="1.5"/>
<line x1="384.25" y1="794.32" x2="384.25" y2="795.40" stroke="#963030" stroke-width="1.15"/>
<line x1="380.65" y1="794.32" x2="387.85" y2="794.32" stroke="#963030" stroke-width="1.5"/>
<line x1="380.65" y1="795.40" x2="387.85" y2="795.40" stroke="#963030" stroke-width="1.5"/>
<line x1="404.95" y1="822.77" x2="404.95" y2="823.86" stroke="#963030" stroke-width="1.15"/>
<line x1="401.35" y1="822.77" x2="408.55" y2="822.77" stroke="#963030" stroke-width="1.5"/>
<line x1="401.35" y1="823.86" x2="408.55" y2="823.86" stroke="#963030" stroke-width="1.5"/>
<line x1="425.70" y1="829.01" x2="425.70" y2="830.09" stroke="#963030" stroke-width="1.15"/>
<line x1="422.10" y1="829.01" x2="429.30" y2="829.01" stroke="#963030" stroke-width="1.5"/>
<line x1="422.10" y1="830.09" x2="429.30" y2="830.09" stroke="#963030" stroke-width="1.5"/>
<rect x="471.40" y="720.86" width="15.10" height="110.24" fill="#262626" stroke="#1a1a1a" stroke-width="1.6"/>
<rect x="492.20" y="807.04" width="15.70" height="24.06" fill="#787878" stroke="#333333" stroke-width="1.6"/>
<rect x="512.80" y="826.88" width="15.90" height="4.22" fill="#9e9e9e" stroke="#333333" stroke-width="1.6"/>
<rect x="533.40" y="830.30" width="16.20" height="0.80" fill="#eeeeee" stroke="#555555" stroke-width="1.6"/>
<line x1="478.95" y1="718.98" x2="478.95" y2="721.15" stroke="#963030" stroke-width="1.15"/>
<line x1="475.35" y1="718.98" x2="482.55" y2="718.98" stroke="#963030" stroke-width="1.5"/>
<line x1="475.35" y1="721.15" x2="482.55" y2="721.15" stroke="#963030" stroke-width="1.5"/>
<line x1="500.05" y1="805.70" x2="500.05" y2="806.78" stroke="#963030" stroke-width="1.15"/>
<line x1="496.45" y1="805.70" x2="503.65" y2="805.70" stroke="#963030" stroke-width="1.5"/>
<line x1="496.45" y1="806.78" x2="503.65" y2="806.78" stroke="#963030" stroke-width="1.5"/>
<line x1="520.75" y1="825.54" x2="520.75" y2="826.62" stroke="#963030" stroke-width="1.15"/>
<line x1="517.15" y1="825.54" x2="524.35" y2="825.54" stroke="#963030" stroke-width="1.5"/>
<line x1="517.15" y1="826.62" x2="524.35" y2="826.62" stroke="#963030" stroke-width="1.5"/>
<line x1="541.50" y1="830.36" x2="541.50" y2="830.90" stroke="#963030" stroke-width="1.15"/>
<line x1="537.90" y1="830.36" x2="545.10" y2="830.36" stroke="#963030" stroke-width="1.5"/>
<line x1="537.90" y1="830.90" x2="545.10" y2="830.90" stroke="#963030" stroke-width="1.5"/>
<rect x="586.60" y="698.10" width="15.10" height="133.00" fill="#262626" stroke="#1a1a1a" stroke-width="1.6"/>
<rect x="607.40" y="799.45" width="15.70" height="31.65" fill="#787878" stroke="#333333" stroke-width="1.6"/>
<rect x="628.00" y="825.69" width="15.90" height="5.41" fill="#9e9e9e" stroke="#333333" stroke-width="1.6"/>
<rect x="648.60" y="830.30" width="16.20" height="0.80" fill="#eeeeee" stroke="#555555" stroke-width="1.6"/>
<line x1="594.15" y1="696.49" x2="594.15" y2="698.11" stroke="#963030" stroke-width="1.15"/>
<line x1="590.55" y1="696.49" x2="597.75" y2="696.49" stroke="#963030" stroke-width="1.5"/>
<line x1="590.55" y1="698.11" x2="597.75" y2="698.11" stroke="#963030" stroke-width="1.5"/>
<line x1="615.25" y1="798.11" x2="615.25" y2="799.20" stroke="#963030" stroke-width="1.15"/>
<line x1="611.65" y1="798.11" x2="618.85" y2="798.11" stroke="#963030" stroke-width="1.5"/>
<line x1="611.65" y1="799.20" x2="618.85" y2="799.20" stroke="#963030" stroke-width="1.5"/>
<line x1="635.95" y1="824.34" x2="635.95" y2="825.43" stroke="#963030" stroke-width="1.15"/>
<line x1="632.35" y1="824.34" x2="639.55" y2="824.34" stroke="#963030" stroke-width="1.5"/>
<line x1="632.35" y1="825.43" x2="639.55" y2="825.43" stroke="#963030" stroke-width="1.5"/>
<line x1="656.70" y1="829.82" x2="656.70" y2="830.36" stroke="#963030" stroke-width="1.15"/>
<line x1="653.10" y1="829.82" x2="660.30" y2="829.82" stroke="#963030" stroke-width="1.5"/>
<line x1="653.10" y1="830.36" x2="660.30" y2="830.36" stroke="#963030" stroke-width="1.5"/>
<text x="164.30" y="867.90" font-size="19" font-weight="bold" text-anchor="middle" fill="#404040" stroke="#404040" stroke-width="0.25" textLength="21" lengthAdjust="spacingAndGlyphs" >PE</text>
<text x="279.70" y="867.90" font-size="19" font-weight="bold" text-anchor="middle" fill="#404040" stroke="#404040" stroke-width="0.25" textLength="22.8" lengthAdjust="spacingAndGlyphs" >PP</text>
<text x="394.30" y="867.90" font-size="19" font-weight="bold" text-anchor="middle" fill="#404040" stroke="#404040" stroke-width="0.25" textLength="31.2" lengthAdjust="spacingAndGlyphs" >PET</text>
<text x="510.50" y="867.90" font-size="19" font-weight="bold" text-anchor="middle" fill="#404040" stroke="#404040" stroke-width="0.25" textLength="20.7" lengthAdjust="spacingAndGlyphs" >PS</text>
<text x="626.30" y="867.90" font-size="19" font-weight="bold" text-anchor="middle" fill="#404040" stroke="#404040" stroke-width="0.25" textLength="32.7" lengthAdjust="spacingAndGlyphs" >PLA</text>
<text x="8.30" y="615.80" font-size="23.3" font-weight="normal" text-anchor="start" fill="#111" stroke="#111" stroke-width="0.35" textLength="14.7" lengthAdjust="spacingAndGlyphs" >C</text>
<text transform="translate(26.20,715.70) rotate(-90)" x="0" y="0" font-size="19.5" font-weight="bold" text-anchor="middle" fill="#404040" stroke="#404040" stroke-width="0.3" textLength="85.2" lengthAdjust="spacingAndGlyphs">mass [µg]</text>
<text x="428.60" y="627.50" font-size="19.6" font-weight="bold" text-anchor="start" fill="#404040" stroke="#404040" stroke-width="0.25" textLength="241" lengthAdjust="spacingAndGlyphs" >x-y-size classes of particles</text>
<rect x="431.70" y="644.00" width="11.50" height="11.70" fill="#262626" stroke="#1a1a1a" stroke-width="1.4"/>
<text x="450.20" y="656.30" font-size="19" font-weight="bold" text-anchor="start" fill="#404040" stroke="#404040" stroke-width="0.25" textLength="43.0" lengthAdjust="spacingAndGlyphs" >1000</text>
<rect x="537.60" y="644.00" width="11.50" height="11.70" fill="#787878" stroke="#333333" stroke-width="1.4"/>
<text x="555.20" y="656.30" font-size="19" font-weight="bold" text-anchor="start" fill="#404040" stroke="#404040" stroke-width="0.25" textLength="31.7" lengthAdjust="spacingAndGlyphs" >500</text>
<rect x="431.70" y="672.60" width="11.50" height="11.70" fill="#9e9e9e" stroke="#333333" stroke-width="1.4"/>
<text x="450.20" y="684.90" font-size="19" font-weight="bold" text-anchor="start" fill="#404040" stroke="#404040" stroke-width="0.25" textLength="32.2" lengthAdjust="spacingAndGlyphs" >250</text>
<rect x="537.60" y="672.60" width="11.50" height="11.70" fill="#eeeeee" stroke="#555555" stroke-width="1.4"/>
<text x="555.20" y="684.90" font-size="19" font-weight="bold" text-anchor="start" fill="#404040" stroke="#404040" stroke-width="0.25" textLength="31.7" lengthAdjust="spacingAndGlyphs" >125</text>
</svg></body></html>
